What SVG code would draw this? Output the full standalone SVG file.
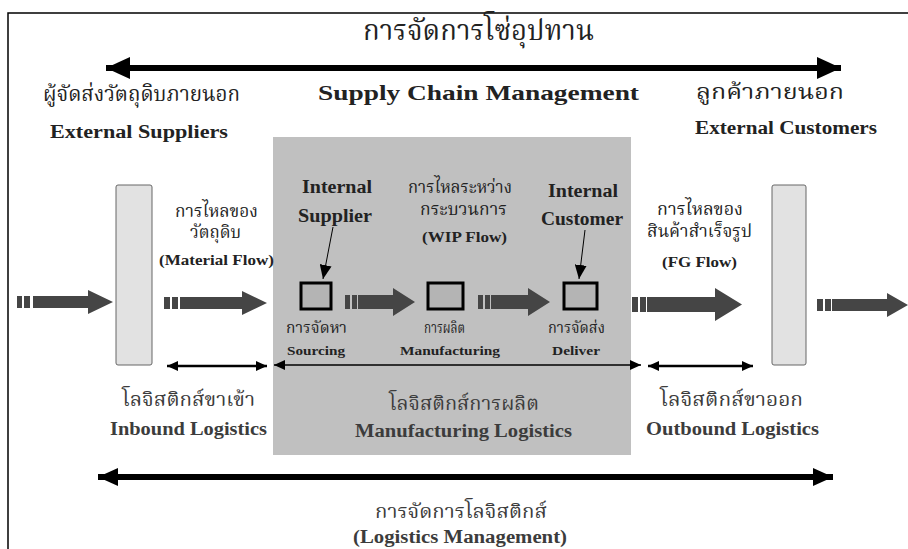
<svg xmlns="http://www.w3.org/2000/svg" width="908" height="549" viewBox="0 0 908 549">
<defs>
<style>
.th{font-family:"Liberation Serif","Noto Serif Thai","Noto Sans Thai",serif;fill:#222}
.en{font-family:"Liberation Serif",serif;font-weight:bold;fill:#222}
.lg{fill:#3c3c3c}
.blk{fill:#454545}
.bar{fill:#e2e2e2;stroke:#666;stroke-width:1}
.proc{fill:#b4b4b4;stroke:#000;stroke-width:3}
.ln{stroke:#000;fill:none}
</style>
<marker id="bigHead" markerUnits="userSpaceOnUse" viewBox="0 0 24 22" markerWidth="24" markerHeight="22" refX="24" refY="11" orient="auto-start-reverse"><path d="M0,0 L24,11 L0,22 z" fill="#000"/></marker>
<marker id="botHead" markerUnits="userSpaceOnUse" viewBox="0 0 20 18" markerWidth="20" markerHeight="18" refX="20" refY="9" orient="auto-start-reverse"><path d="M0,0 L20,9 L0,18 z" fill="#000"/></marker>
<marker id="smHead" markerUnits="userSpaceOnUse" viewBox="0 0 11 10" markerWidth="11" markerHeight="10" refX="11" refY="5" orient="auto-start-reverse"><path d="M0,0 L11,5 L0,10 z" fill="#000"/></marker>
<marker id="ptHead" markerUnits="userSpaceOnUse" viewBox="0 0 14 12" markerWidth="14" markerHeight="12" refX="14" refY="6" orient="auto"><path d="M0,0 L14,6 L0,12 z" fill="#000"/></marker>
</defs>
<rect width="908" height="549" fill="#fff"/>
<g id="frame"><rect x="8" y="13" width="920" height="560" fill="none" stroke="#000" stroke-width="1.5"/></g>

<g id="production-area"><rect x="273" y="137" width="358" height="318" fill="#c0c0c0"/></g>

<g id="title">
<text class="th" x="363" y="40" font-size="28" textLength="231" lengthAdjust="spacingAndGlyphs">การจัดการโซ่อุปทาน</text>
<text class="en" x="318" y="100" font-size="22" textLength="321" lengthAdjust="spacingAndGlyphs">Supply Chain Management</text>
</g>

<g id="external-suppliers">
<text class="th" x="43" y="101" font-size="22" textLength="197" lengthAdjust="spacingAndGlyphs">ผู้จัดส่งวัตถุดิบภายนอก</text>
<text class="en" x="50" y="138" font-size="18" textLength="178" lengthAdjust="spacingAndGlyphs">External Suppliers</text>
<rect class="bar" x="116" y="185" width="36" height="180" rx="2"/>
</g>

<g id="external-customers">
<text class="th" x="696" y="99" font-size="22" textLength="148" lengthAdjust="spacingAndGlyphs">ลูกค้าภายนอก</text>
<text class="en" x="695" y="134" font-size="18" textLength="182" lengthAdjust="spacingAndGlyphs">External Customers</text>
<rect class="bar" x="772" y="185" width="34" height="180" rx="2"/>
</g>

<g id="material-flow-label">
<text class="th" x="175" y="217" font-size="18" textLength="83" lengthAdjust="spacingAndGlyphs">การไหลของ</text>
<text class="th" x="190" y="238" font-size="18" textLength="51" lengthAdjust="spacingAndGlyphs">วัตถุดิบ</text>
<text class="en" x="159" y="265" font-size="15" textLength="115" lengthAdjust="spacingAndGlyphs">(Material Flow)</text>
</g>

<g id="internal-supplier-label">
<text class="en" x="302" y="193" font-size="18" textLength="70" lengthAdjust="spacingAndGlyphs">Internal</text>
<text class="en" x="298" y="222" font-size="18" textLength="74" lengthAdjust="spacingAndGlyphs">Supplier</text>
</g>

<g id="wip-flow-label">
<text class="th" x="408" y="193" font-size="18" textLength="104" lengthAdjust="spacingAndGlyphs">การไหลระหว่าง</text>
<text class="th" x="420" y="215" font-size="18" textLength="87" lengthAdjust="spacingAndGlyphs">กระบวนการ</text>
<text class="en" x="422" y="242" font-size="15" textLength="85" lengthAdjust="spacingAndGlyphs">(WIP Flow)</text>
</g>

<g id="internal-customer-label">
<text class="en" x="548" y="197" font-size="18" textLength="70" lengthAdjust="spacingAndGlyphs">Internal</text>
<text class="en" x="541" y="225" font-size="18" textLength="82" lengthAdjust="spacingAndGlyphs">Customer</text>
</g>

<g id="fg-flow-label">
<text class="th" x="657" y="215" font-size="18" textLength="86" lengthAdjust="spacingAndGlyphs">การไหลของ</text>
<text class="th" x="647" y="237" font-size="18" textLength="105" lengthAdjust="spacingAndGlyphs">สินค้าสำเร็จรูป</text>
<text class="en" x="662" y="267" font-size="15" textLength="75" lengthAdjust="spacingAndGlyphs">(FG Flow)</text>
</g>

<g id="sourcing">
<rect class="proc" x="301" y="283" width="30" height="26" fill="#b4b4b4"/>
<text class="th" x="286" y="333" font-size="15" textLength="61" lengthAdjust="spacingAndGlyphs">การจัดหา</text>
<text class="en" x="287" y="355" font-size="13" textLength="58" lengthAdjust="spacingAndGlyphs">Sourcing</text>
</g>

<g id="manufacturing">
<rect class="proc" x="428" y="283" width="35" height="26" fill="#b4b4b4"/>
<text class="th" x="424" y="333" font-size="15" textLength="41" lengthAdjust="spacingAndGlyphs">การผลิต</text>
<text class="en" x="400" y="355" font-size="13" textLength="100" lengthAdjust="spacingAndGlyphs">Manufacturing</text>
</g>

<g id="deliver">
<rect class="proc" x="564" y="283" width="33" height="26" fill="#b4b4b4"/>
<text class="th" x="548" y="333" font-size="15" textLength="57" lengthAdjust="spacingAndGlyphs">การจัดส่ง</text>
<text class="en" x="552" y="355" font-size="13" textLength="48" lengthAdjust="spacingAndGlyphs">Deliver</text>
</g>

<g id="logistics-labels">
<text class="th lg" x="122" y="406" font-size="20" textLength="133" lengthAdjust="spacingAndGlyphs">โลจิสติกส์ขาเข้า</text>
<text class="en lg" x="110" y="435" font-size="18" textLength="157" lengthAdjust="spacingAndGlyphs">Inbound Logistics</text>
<text class="th lg" x="389" y="410" font-size="20" textLength="150" lengthAdjust="spacingAndGlyphs">โลจิสติกส์การผลิต</text>
<text class="en lg" x="355" y="437" font-size="18" textLength="217" lengthAdjust="spacingAndGlyphs">Manufacturing Logistics</text>
<text class="th lg" x="660" y="406" font-size="20" textLength="143" lengthAdjust="spacingAndGlyphs">โลจิสติกส์ขาออก</text>
<text class="en lg" x="646" y="435" font-size="18" textLength="173" lengthAdjust="spacingAndGlyphs">Outbound Logistics</text>
<text class="th lg" x="375" y="518" font-size="20" textLength="172" lengthAdjust="spacingAndGlyphs">การจัดการโลจิสติกส์</text>
<text class="en lg" x="353" y="543" font-size="18" textLength="214" lengthAdjust="spacingAndGlyphs">(Logistics Management)</text>
</g>

<g id="connectors">
<line class="ln" x1="106" y1="68" x2="841" y2="68" stroke-width="6" marker-start="url(#bigHead)" marker-end="url(#bigHead)"/>
<line class="ln" x1="98" y1="477" x2="833" y2="477" stroke-width="6" marker-start="url(#botHead)" marker-end="url(#botHead)"/>
<line class="ln" x1="167" y1="366" x2="267" y2="366" stroke-width="2.5" marker-start="url(#smHead)" marker-end="url(#smHead)"/>
<line class="ln" x1="274" y1="365" x2="641" y2="365" stroke-width="1.6" marker-start="url(#smHead)" marker-end="url(#smHead)"/>
<line class="ln" x1="648" y1="366" x2="753" y2="366" stroke-width="2.5" marker-start="url(#smHead)" marker-end="url(#smHead)"/>
<line class="ln" x1="333" y1="227" x2="323" y2="279" stroke-width="1" marker-end="url(#ptHead)"/>
<line class="ln" x1="585" y1="230" x2="579" y2="279" stroke-width="1" marker-end="url(#ptHead)"/>
<g class="blk">
<rect x="17" y="296" width="5" height="12"/><rect x="24" y="296" width="6" height="12"/>
<path d="M33,296 H88 V290 L113,302 L88,314 V308 H33 z"/>
<rect x="164" y="297" width="6" height="12"/><rect x="172" y="297" width="6" height="12"/>
<path d="M180,297 H242 V291 L267,303 L242,315 V309 H180 z"/>
<rect x="345" y="295" width="5" height="14"/><rect x="352" y="295" width="5" height="14"/>
<path d="M358,295 H393 V288 L415,302 L393,316 V309 H358 z"/>
<rect x="478" y="295" width="5" height="14"/><rect x="485" y="295" width="5" height="14"/>
<path d="M491,295 H528 V288 L550,302 L528,316 V309 H491 z"/>
<rect x="632" y="297" width="6" height="15"/><rect x="640" y="297" width="6" height="15"/>
<path d="M647,297 H715 V288 L742,304.5 L715,321 V312 H647 z"/>
<rect x="817" y="299" width="6" height="12"/><rect x="825" y="299" width="6" height="12"/>
<path d="M832,299 H887 V293 L908,305 L887,317 V311 H832 z"/>
</g>
</g>
</svg>
